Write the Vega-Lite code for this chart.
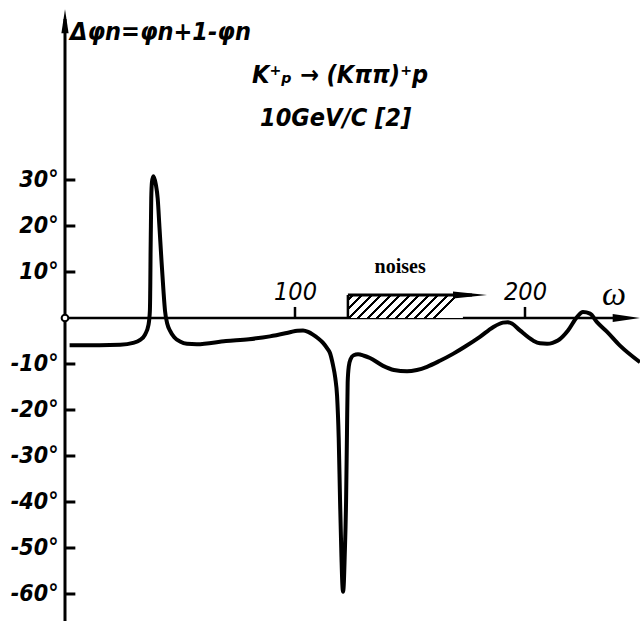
{
  "$schema": "https://vega.github.io/schema/vega-lite/v6.json",
  "width": 640,
  "height": 621,
  "autosize": {"type": "none"},
  "padding": 0,
  "background": "white",
  "config": {"view": {"stroke": null}, "font": "DejaVu Sans Condensed, DejaVu Sans"},
  "data": {"values": [{"origin": 0}]},
  "resolve": {"axis": {"x": "independent", "y": "independent"}},
  "datasets": {
    "curve": [
      {"w": 2, "dphi": -5.9}, {"w": 15, "dphi": -5.9}, {"w": 24, "dphi": -5.8}, {"w": 29.6, "dphi": -5.4},
      {"w": 32.5, "dphi": -4.8}, {"w": 34.8, "dphi": -3.6}, {"w": 36.3, "dphi": -1.5}, {"w": 36.9, "dphi": 1.5},
      {"w": 37.1, "dphi": 8}, {"w": 37.2, "dphi": 14}, {"w": 37.35, "dphi": 20}, {"w": 37.5, "dphi": 26},
      {"w": 37.8, "dphi": 29.5}, {"w": 38.4, "dphi": 30.8}, {"w": 39.5, "dphi": 29.0}, {"w": 40.3, "dphi": 26.0},
      {"w": 41.1, "dphi": 19.5}, {"w": 41.96, "dphi": 12.4}, {"w": 42.8, "dphi": 6}, {"w": 43.5, "dphi": 1.5},
      {"w": 44.5, "dphi": -1.3}, {"w": 45.7, "dphi": -2.8}, {"w": 47.5, "dphi": -4.2}, {"w": 50, "dphi": -5.1},
      {"w": 53, "dphi": -5.6}, {"w": 57.3, "dphi": -5.7}, {"w": 70, "dphi": -5.0}, {"w": 80, "dphi": -4.6},
      {"w": 89.1, "dphi": -4.0}, {"w": 97.8, "dphi": -3.1}, {"w": 101, "dphi": -2.75}, {"w": 103.5, "dphi": -2.7},
      {"w": 105.7, "dphi": -3.0}, {"w": 107.8, "dphi": -3.6}, {"w": 110, "dphi": -4.4}, {"w": 112.2, "dphi": -5.4},
      {"w": 114, "dphi": -6.6}, {"w": 115.2, "dphi": -7.6}, {"w": 116.5, "dphi": -10.2}, {"w": 117.5, "dphi": -13},
      {"w": 118.3, "dphi": -17}, {"w": 119, "dphi": -26}, {"w": 119.6, "dphi": -40}, {"w": 120.2, "dphi": -52},
      {"w": 120.6, "dphi": -58}, {"w": 120.9, "dphi": -59.5}, {"w": 121.2, "dphi": -58}, {"w": 121.6, "dphi": -52},
      {"w": 122.2, "dphi": -40}, {"w": 122.6, "dphi": -25}, {"w": 122.9, "dphi": -14}, {"w": 123.4, "dphi": -10.5},
      {"w": 124.2, "dphi": -8.9}, {"w": 125.5, "dphi": -8.1}, {"w": 127.4, "dphi": -7.9}, {"w": 130, "dphi": -8.2},
      {"w": 132.6, "dphi": -8.7}, {"w": 138.3, "dphi": -10.4}, {"w": 143, "dphi": -11.3}, {"w": 148.7, "dphi": -11.6},
      {"w": 153, "dphi": -11.3}, {"w": 157.4, "dphi": -10.6}, {"w": 163, "dphi": -9.3}, {"w": 168.7, "dphi": -7.8},
      {"w": 174, "dphi": -6.2}, {"w": 180.4, "dphi": -4.1}, {"w": 186.1, "dphi": -2.0}, {"w": 190.4, "dphi": -1.0},
      {"w": 192.5, "dphi": -0.9}, {"w": 194.3, "dphi": -1.2}, {"w": 197.8, "dphi": -2.7}, {"w": 203.5, "dphi": -4.9},
      {"w": 206.5, "dphi": -5.5}, {"w": 209.6, "dphi": -5.6}, {"w": 212, "dphi": -5.4}, {"w": 214.3, "dphi": -4.9},
      {"w": 218.7, "dphi": -2.7}, {"w": 222.6, "dphi": 0.2}, {"w": 225.2, "dphi": 1.3}, {"w": 228.3, "dphi": 0.95},
      {"w": 231.3, "dphi": -0.9}, {"w": 235.7, "dphi": -3.0}, {"w": 241.3, "dphi": -6.0}, {"w": 250, "dphi": -9.6}
    ],
    "yticks": [
      {"deg": 30}, {"deg": 20}, {"deg": 10}, {"deg": -10}, {"deg": -20},
      {"deg": -30}, {"deg": -40}, {"deg": -50}, {"deg": -60}
    ],
    "xticks": [{"omega": 100}, {"omega": 200}],
    "noise": [{"label": "noises", "from": 123, "to": 173, "top": 5}]
  },
  "layer": [
    {
      "mark": {"type": "rule", "color": "black", "strokeWidth": 3},
      "encoding": {
        "x": {"datum": 0, "type": "quantitative", "scale": {"domain": [-28.26, 250], "nice": false, "zero": false}, "axis": null},
        "y": {"datum": -66, "type": "quantitative", "scale": {"domain": [-65.87, 69.13], "nice": false, "zero": false}, "axis": null},
        "y2": {"datum": 65}
      }
    },
    {
      "mark": {"type": "rule", "color": "black", "strokeWidth": 2.5},
      "encoding": {
        "x": {"datum": 0, "type": "quantitative", "scale": {"domain": [-28.26, 250], "nice": false, "zero": false}, "axis": null},
        "x2": {"datum": 243},
        "y": {"datum": 0, "type": "quantitative", "scale": {"domain": [-65.87, 69.13], "nice": false, "zero": false}, "axis": null}
      }
    },
    {
      "data": {"name": "yticks"},
      "mark": {"type": "rule", "color": "black", "strokeWidth": 3},
      "encoding": {
        "x": {"datum": 0, "type": "quantitative", "scale": {"domain": [-28.26, 250], "nice": false, "zero": false}, "axis": null},
        "x2": {"datum": 4.5},
        "y": {"field": "deg", "type": "quantitative", "scale": {"domain": [-65.87, 69.13], "nice": false, "zero": false},
          "axis": {"orient": "left", "offset": -64, "values": [30, 20, 10, -10, -20, -30, -40, -50, -60],
            "labelExpr": "datum.value + '°'", "domain": false, "ticks": false, "grid": false, "title": null,
            "labelPadding": 6, "labelFontSize": 23, "labelFontStyle": "italic", "labelFontWeight": "bold",
            "labelColor": "black", "labelFont": "DejaVu Sans Condensed, DejaVu Sans"}}
      }
    },
    {
      "data": {"name": "xticks"},
      "mark": {"type": "rule", "color": "black", "strokeWidth": 2.5},
      "encoding": {
        "x": {"field": "omega", "type": "quantitative", "scale": {"domain": [-28.26, 250], "nice": false, "zero": false},
          "axis": {"orient": "top", "offset": -318, "values": [100, 200], "domain": false, "grid": false, "title": null,
            "ticks": false, "labelPadding": 14, "labelFontSize": 25,
            "labelFontStyle": "italic", "labelColor": "black", "labelFont": "DejaVu Sans Condensed, DejaVu Sans"}},
        "y": {"datum": 0, "type": "quantitative", "scale": {"domain": [-65.87, 69.13], "nice": false, "zero": false}, "axis": null},
        "y2": {"datum": 2.4}
      }
    },
    {
      "mark": {"type": "point", "shape": "M0,-1L0.3,1L-0.3,1Z", "size": 576, "filled": true, "color": "black", "opacity": 1},
      "encoding": {
        "x": {"datum": 0, "type": "quantitative", "scale": {"domain": [-28.26, 250], "nice": false, "zero": false}, "axis": null},
        "y": {"datum": 64.5, "type": "quantitative", "scale": {"domain": [-65.87, 69.13], "nice": false, "zero": false}, "axis": null}
      }
    },
    {
      "mark": {"type": "point", "shape": "M1,0L-1,-0.28L-1,0.28Z", "size": 784, "filled": true, "color": "black", "opacity": 1},
      "encoding": {
        "x": {"datum": 244.2, "type": "quantitative", "scale": {"domain": [-28.26, 250], "nice": false, "zero": false}, "axis": null},
        "y": {"datum": 0, "type": "quantitative", "scale": {"domain": [-65.87, 69.13], "nice": false, "zero": false}, "axis": null}
      }
    },
    {
      "data": {"name": "curve"},
      "mark": {"type": "line", "color": "black", "strokeWidth": 4, "interpolate": "monotone"},
      "encoding": {
        "x": {"field": "w", "type": "quantitative", "scale": {"domain": [-28.26, 250], "nice": false, "zero": false}, "axis": null},
        "y": {"field": "dphi", "type": "quantitative", "scale": {"domain": [-65.87, 69.13], "nice": false, "zero": false}, "axis": null}
      }
    },
    {
      "mark": {"type": "point", "shape": "circle", "size": 45, "filled": true, "fill": "white", "stroke": "black", "strokeWidth": 2, "opacity": 1},
      "encoding": {
        "x": {"field": "origin", "type": "quantitative", "scale": {"domain": [-28.26, 250], "nice": false, "zero": false}, "axis": null},
        "y": {"field": "origin", "type": "quantitative", "scale": {"domain": [-65.87, 69.13], "nice": false, "zero": false}, "axis": null}
      }
    },
    {
      "data": {"name": "noise"},
      "mark": {"type": "rect", "stroke": null,
        "fill": {"gradient": "linear", "x1": 0, "y1": 0, "x2": 1, "y2": 0.2, "stops": [
          {"offset": 0, "color": "white"},
          {"offset": 0.030, "color": "white"}, {"offset": 0.030, "color": "black"}, {"offset": 0.052, "color": "black"}, {"offset": 0.052, "color": "white"},
          {"offset": 0.109, "color": "white"}, {"offset": 0.109, "color": "black"}, {"offset": 0.131, "color": "black"}, {"offset": 0.131, "color": "white"},
          {"offset": 0.189, "color": "white"}, {"offset": 0.189, "color": "black"}, {"offset": 0.211, "color": "black"}, {"offset": 0.211, "color": "white"},
          {"offset": 0.268, "color": "white"}, {"offset": 0.268, "color": "black"}, {"offset": 0.290, "color": "black"}, {"offset": 0.290, "color": "white"},
          {"offset": 0.348, "color": "white"}, {"offset": 0.348, "color": "black"}, {"offset": 0.370, "color": "black"}, {"offset": 0.370, "color": "white"},
          {"offset": 0.427, "color": "white"}, {"offset": 0.427, "color": "black"}, {"offset": 0.449, "color": "black"}, {"offset": 0.449, "color": "white"},
          {"offset": 0.506, "color": "white"}, {"offset": 0.506, "color": "black"}, {"offset": 0.528, "color": "black"}, {"offset": 0.528, "color": "white"},
          {"offset": 0.586, "color": "white"}, {"offset": 0.586, "color": "black"}, {"offset": 0.608, "color": "black"}, {"offset": 0.608, "color": "white"},
          {"offset": 0.665, "color": "white"}, {"offset": 0.665, "color": "black"}, {"offset": 0.687, "color": "black"}, {"offset": 0.687, "color": "white"},
          {"offset": 0.745, "color": "white"}, {"offset": 0.745, "color": "black"}, {"offset": 0.767, "color": "black"}, {"offset": 0.767, "color": "white"},
          {"offset": 0.824, "color": "white"}, {"offset": 0.824, "color": "black"}, {"offset": 0.846, "color": "black"}, {"offset": 0.846, "color": "white"},
          {"offset": 0.903, "color": "white"}, {"offset": 0.903, "color": "black"}, {"offset": 0.925, "color": "black"}, {"offset": 0.925, "color": "white"},
          {"offset": 1, "color": "white"}
        ]}},
      "encoding": {
        "x": {"field": "from", "type": "quantitative", "scale": {"domain": [-28.26, 250], "nice": false, "zero": false}, "axis": null},
        "x2": {"field": "to"},
        "y": {"field": "top", "type": "quantitative", "scale": {"domain": [-65.87, 69.13], "nice": false, "zero": false}, "axis": null},
        "y2": {"datum": 0}
      }
    },
    {
      "data": {"name": "noise"},
      "mark": {"type": "rule", "color": "black", "strokeWidth": 2.5},
      "encoding": {
        "x": {"field": "from", "type": "quantitative", "scale": {"domain": [-28.26, 250], "nice": false, "zero": false}, "axis": null},
        "y": {"field": "top", "type": "quantitative", "scale": {"domain": [-65.87, 69.13], "nice": false, "zero": false}, "axis": null},
        "y2": {"datum": 0}
      }
    },
    {
      "data": {"name": "noise"},
      "mark": {"type": "rule", "color": "black", "strokeWidth": 3},
      "encoding": {
        "x": {"field": "from", "type": "quantitative", "scale": {"domain": [-28.26, 250], "nice": false, "zero": false}, "axis": null},
        "x2": {"datum": 177},
        "y": {"field": "top", "type": "quantitative", "scale": {"domain": [-65.87, 69.13], "nice": false, "zero": false}, "axis": null}
      }
    },
    {
      "data": {"name": "noise"},
      "mark": {"type": "point", "shape": "M1,0L-1,-0.2L-1,0.2Z", "size": 1156, "filled": true, "color": "black", "opacity": 1},
      "encoding": {
        "x": {"datum": 176.1, "type": "quantitative", "scale": {"domain": [-28.26, 250], "nice": false, "zero": false}, "axis": null},
        "y": {"field": "top", "type": "quantitative", "scale": {"domain": [-65.87, 69.13], "nice": false, "zero": false}, "axis": null}
      }
    },
    {
      "data": {"name": "noise"},
      "mark": {"type": "text", "font": "Liberation Serif", "fontWeight": "bold", "fontSize": 20, "color": "black", "align": "center", "baseline": "middle"},
      "encoding": {
        "text": {"field": "label"},
        "x": {"datum": 145.7, "type": "quantitative", "scale": {"domain": [-28.26, 250], "nice": false, "zero": false}, "axis": null},
        "y": {"datum": 11, "type": "quantitative", "scale": {"domain": [-65.87, 69.13], "nice": false, "zero": false}, "axis": null}
      }
    },
    {
      "mark": {"type": "text", "text": "ω", "font": "Liberation Serif", "fontStyle": "italic", "fontSize": 34, "color": "black", "align": "center", "baseline": "middle"},
      "encoding": {
        "x": {"datum": 238.7, "type": "quantitative", "scale": {"domain": [-28.26, 250], "nice": false, "zero": false}, "axis": null},
        "y": {"datum": 5, "type": "quantitative", "scale": {"domain": [-65.87, 69.13], "nice": false, "zero": false}, "axis": null}
      }
    },
    {
      "mark": {"type": "text", "text": "Δφn=φn+1-φn", "fontStyle": "italic", "fontWeight": "bold", "fontSize": 25, "color": "black", "align": "left", "baseline": "middle"},
      "encoding": {
        "x": {"datum": 2.2, "type": "quantitative", "scale": {"domain": [-28.26, 250], "nice": false, "zero": false}, "axis": null},
        "y": {"datum": 62.2, "type": "quantitative", "scale": {"domain": [-65.87, 69.13], "nice": false, "zero": false}, "axis": null}
      }
    },
    {
      "mark": {"type": "text", "text": "K⁺ₚ → (Kππ)⁺p", "fontStyle": "italic", "fontWeight": "bold", "fontSize": 25, "color": "black", "align": "left", "baseline": "middle"},
      "encoding": {
        "x": {"datum": 81.3, "type": "quantitative", "scale": {"domain": [-28.26, 250], "nice": false, "zero": false}, "axis": null},
        "y": {"datum": 52.8, "type": "quantitative", "scale": {"domain": [-65.87, 69.13], "nice": false, "zero": false}, "axis": null}
      }
    },
    {
      "mark": {"type": "text", "text": "10GeV/C [2]", "fontStyle": "italic", "fontWeight": "bold", "fontSize": 25, "color": "black", "align": "left", "baseline": "middle"},
      "encoding": {
        "x": {"datum": 84.8, "type": "quantitative", "scale": {"domain": [-28.26, 250], "nice": false, "zero": false}, "axis": null},
        "y": {"datum": 43.5, "type": "quantitative", "scale": {"domain": [-65.87, 69.13], "nice": false, "zero": false}, "axis": null}
      }
    }
  ]
}
